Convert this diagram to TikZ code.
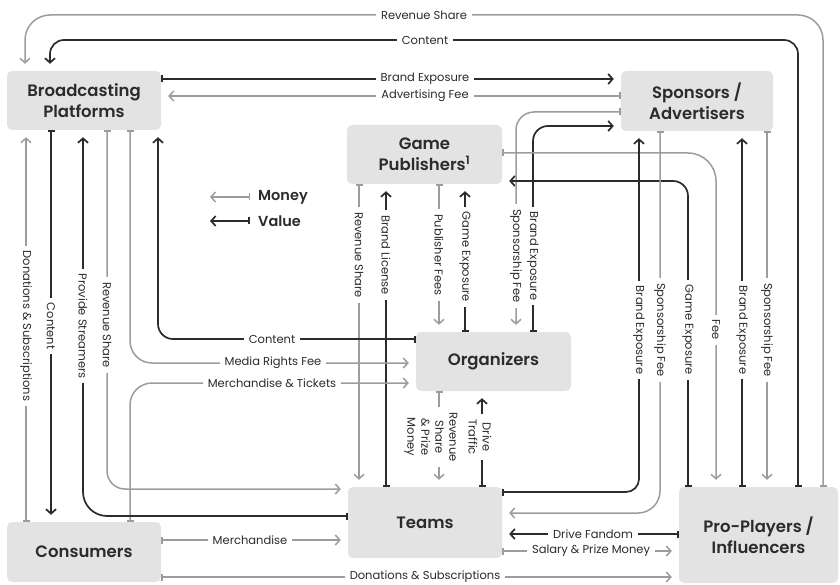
\documentclass[tikz,border=0pt]{standalone}
\usepackage{fontspec}
\setmainfont{Poppins}[BoldFont=* SemiBold]
\usetikzlibrary{arrows.meta}
\definecolor{boxgray}{HTML}{E3E3E3}
\definecolor{moneygray}{HTML}{9C9C9C}
\definecolor{valueblack}{HTML}{2B2B2B}

\begin{document}
\begin{tikzpicture}[
  x=1pt, y=-1pt,
  block/.style={
    fill=boxgray,
    rounded corners=5pt,
    inner sep=0pt,
    align=center,
    text=valueblack,
    font=\fontsize{16.5}{21}\selectfont\bfseries
  },
  money/.style={
    draw=moneygray,
    line width=1.5pt,
    {Bar[width=7pt]}-{Straight Barb[length=4.5pt,width=10pt]},
    shorten >=7pt
  },
  value/.style={
    draw=valueblack,
    line width=1.7pt,
    {Bar[width=7pt]}-{Straight Barb[length=4.5pt,width=10pt]},
    shorten >=7pt
  },
  lbl/.style={
    fill=white,
    sharp corners,
    inner xsep=5pt,
    inner ysep=1pt,
    align=center,
    text=valueblack,
    font=\fontsize{11.5}{14}\selectfont
  },
  vlbl/.style={lbl, rotate=-90},
  key/.style={
    anchor=west,
    inner sep=0pt,
    text=valueblack,
    font=\fontsize{14.5}{16}\selectfont\bfseries
  }
]
\useasboundingbox (0,0) rectangle (840,585);

\node[block, minimum width=154pt, minimum height=59pt] (bp) at (84,100.5) {Broadcasting\\Platforms};
\node[block, minimum width=152pt, minimum height=60pt] (sa) at (697,101) {Sponsors /\\Advertisers};
\node[block, minimum width=155pt, minimum height=59pt] (gp) at (424.5,154.5) {Game\\Publishers\textsuperscript{1}};
\node[block, minimum width=155pt, minimum height=59pt] (org) at (493.5,361.5) {Organizers};
\node[block, minimum width=154pt, minimum height=71pt] (tm) at (425,522.5) {Teams};
\node[block, minimum width=154pt, minimum height=60pt] (co) at (84,552) {Consumers};
\node[block, minimum width=159pt, minimum height=96pt] (pp) at (758.5,535) {Pro-Players /\\Influencers};

\node[key] (kmoney) at (258,197) {Money};
\node[key] (kvalue) at (258,221) {Value};
\draw[money, shorten >=0pt] ([xshift=-8pt]kmoney.west) -- ([xshift=-48pt]kmoney.west);
\draw[value, shorten >=0pt] ([xshift=-8pt]kvalue.west) -- ([xshift=-48pt]kvalue.west);

\draw[money, rounded corners=25pt] (pp.north -| 823,0) -- (823,15) -- (25,15) -- (bp.north -| 25,0)
  node[lbl] at (424,15) {Revenue Share};
\draw[value, rounded corners=14pt] (pp.north -| 798,0) -- (798,40) -- (50,40) -- (bp.north -| 50,0)
  node[lbl] at (425,40) {Content};
\draw[value] (bp.east |- 0,79) -- (sa.west |- 0,79) node[lbl] at (425,79) {Brand Exposure};
\draw[money] (sa.west |- 0,96) -- (bp.east |- 0,96) node[lbl] at (425,96) {Advertising Fee};

\draw[money, rounded corners=18pt] (sa.west |- 0,112) -- (516,112) -- (org.north -| 516,0)
  node[vlbl] at (516,256) {Sponsorship Fee};
\draw[value, rounded corners=15pt] (org.north -| 533,0) -- (533,126) -- (sa.west |- 0,126)
  node[vlbl] at (533,256) {Brand Exposure};
\draw[money, rounded corners=28pt] (gp.east |- 0,153) -- (716,153) -- (pp.north -| 716,0)
  node[vlbl] at (716,330) {Fee};
\draw[value, rounded corners=15pt] (pp.north -| 688,0) -- (688,181) -- (gp.east |- 0,181)
  node[vlbl] at (688,330) {Game Exposure};
\draw[value, rounded corners=13pt] (tm.east |- 0,492) -- (639,492) -- (sa.south -| 639,0)
  node[vlbl] at (639,330) {Brand Exposure};
\draw[money, rounded corners=22pt] (sa.south -| 660,0) -- (660,513) -- (tm.east |- 0,513)
  node[vlbl] at (660,330) {Sponsorship Fee};
\draw[value] (pp.north -| 742,0) -- (sa.south -| 742,0) node[vlbl] at (742,330) {Brand Exposure};
\draw[money] (sa.south -| 767,0) -- (pp.north -| 767,0) node[vlbl] at (767,330) {Sponsorship Fee};

\draw[money] (gp.south -| 359,0) -- (tm.north -| 359,0) node[vlbl] at (359,255) {Revenue Share};
\draw[value] (tm.north -| 386,0) -- (gp.south -| 386,0) node[vlbl] at (386,255) {Brand License};
\draw[money] (gp.south -| 439,0) -- (org.north -| 439,0) node[vlbl] at (439,255) {Publisher Fees};
\draw[value] (org.north -| 465,0) -- (gp.south -| 465,0) node[vlbl] at (465,257) {Game Exposure};

\draw[money] (org.south -| 439,0) -- (tm.north -| 439,0)
  node[vlbl] at (431,437) {Revenue\\Share\\\& Prize\\Money};
\draw[value] (tm.north -| 482,0) -- (org.south -| 482,0) node[vlbl] at (480,437) {Drive\\Traffic};

\draw[value, rounded corners=15pt] (org.west |- 0,339) -- (158,339) -- (bp.south -| 158,0)
  node[lbl] at (272,339) {Content};
\draw[money, rounded corners=22pt] (bp.south -| 130,0) -- (130,363) -- (org.west |- 0,363)
  node[lbl] at (273,363) {Media Rights Fee};
\draw[money, rounded corners=22pt] (co.north -| 130,0) -- (130,383) -- (org.west |- 0,383)
  node[lbl] at (272,383) {Merchandise \& Tickets};

\draw[money] (co.north -| 26,0) -- (bp.south -| 26,0) node[vlbl] at (26,326) {Donations \& Subscriptions};
\draw[value] (bp.south -| 51,0) -- (co.north -| 51,0) node[vlbl] at (51,326) {Content};
\draw[value, rounded corners=24pt] (tm.west |- 0,516) -- (83,516) -- (bp.south -| 83,0)
  node[vlbl] at (83,326) {Provide Streamers};
\draw[money, rounded corners=18pt] (bp.south -| 107,0) -- (107,489) -- (tm.west |- 0,489)
  node[vlbl] at (107,325) {Revenue Share};

\draw[money] (co.east |- 0,540) -- (tm.west |- 0,540) node[lbl] at (250,540) {Merchandise};
\draw[money] (co.east |- 0,577) -- (pp.west |- 0,577) node[lbl] at (425,577) {Donations \& Subscriptions};
\draw[value] (pp.west |- 0,534) -- (tm.east |- 0,534) node[lbl] at (593,534) {Drive Fandom};
\draw[money] (tm.east |- 0,551) -- (pp.west |- 0,551) node[lbl] at (591,551) {Salary \& Prize Money};

\end{tikzpicture}
\end{document}
